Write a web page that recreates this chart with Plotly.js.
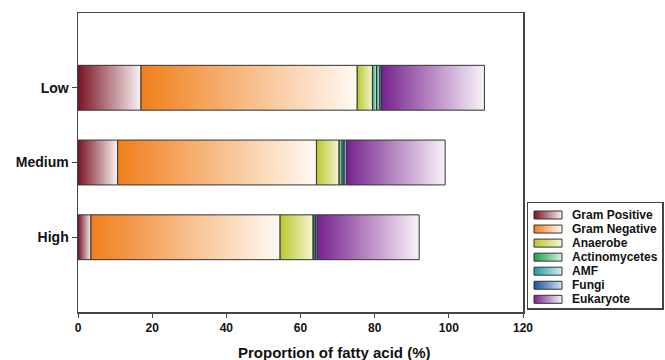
<!DOCTYPE html>
<html>
<head>
<meta charset="utf-8">
<script src="https://cdn.plot.ly/plotly-3.0.1.min.js"></script>
<style>
  html, body { margin: 0; padding: 0; background: #ffffff; }
  #chart { width: 665px; height: 360px; }
</style>
</head>
<body>
<div id="chart"></div>
<script>
// Fatty acid profile per treatment level (% of total)
const groups = ['Low', 'Medium', 'High'];
const seriesNames = ['Gram Positive', 'Gram Negative', 'Anaerobe', 'Actinomycetes', 'AMF', 'Fungi', 'Eukaryote'];
const gramPositive = [17.0, 10.7, 3.5];
const gramNegative = [58.3, 53.6, 51.0];
const anaerobe = [4.1, 6.1, 8.9];
const actinomycetes = [1.1, 0.8, 0.2];
const amf = [0.9, 0.5, 0.4];
const fungi = [0.5, 0.7, 0.5];
const eukaryote = [27.7, 26.6, 27.5];
const xTicks = [0, 20, 40, 60, 80, 100, 120];

const seriesValues = [gramPositive, gramNegative, anaerobe, actinomycetes, amf, fungi, eukaryote];

// dark -> light gradient for each group
const gradients = [
  ['#7a1222', '#f8f2f3'],
  ['#f07f1c', '#fffaf4'],
  ['#b9c92e', '#f4f4d2'],
  ['#1f9a50', '#d6efdd'],
  ['#1c9c9c', '#d3eeee'],
  ['#1f4f9e', '#d6e0f0'],
  ['#77238e', '#f9f2f9']
];

const FONT = 'Liberation Sans, Arial, sans-serif';
const OUTLINE = '#333333';
const HALF = 0.3;

function gradientFill(k) {
  return {
    type: 'horizontal',
    colorscale: [[0, gradients[k][0]], [1, gradients[k][1]]]
  };
}

const traces = [];

// stacked horizontal segments, one filled box per segment
groups.forEach(function (g, i) {
  let start = 0;
  seriesValues.forEach(function (vals, k) {
    const end = start + vals[i];
    traces.push({
      type: 'scatter',
      mode: 'lines',
      x: [start, end, end, start, start],
      y: [i - HALF, i - HALF, i + HALF, i + HALF, i - HALF],
      fill: 'toself',
      fillgradient: gradientFill(k),
      line: { color: OUTLINE, width: 1 },
      name: seriesNames[k],
      showlegend: false,
      hoverinfo: 'skip',
      xaxis: 'x',
      yaxis: 'y'
    });
    start = end;
  });
});

// key: swatch + label per group, drawn on its own small axes
const KEY_ROW0 = 12;
const KEY_STEP = 14.05;
const KEY_SW_H = 4;
const annotations = [];
seriesNames.forEach(function (name, k) {
  const yc = KEY_ROW0 + KEY_STEP * k;
  traces.push({
    type: 'scatter',
    mode: 'lines',
    x: [6, 34, 34, 6, 6],
    y: [yc - KEY_SW_H, yc - KEY_SW_H, yc + KEY_SW_H, yc + KEY_SW_H, yc - KEY_SW_H],
    fill: 'toself',
    fillgradient: gradientFill(k),
    line: { color: OUTLINE, width: 1 },
    showlegend: false,
    hoverinfo: 'skip',
    xaxis: 'x2',
    yaxis: 'y2'
  });
  annotations.push({
    xref: 'x2', yref: 'y2',
    x: 42, y: yc,
    xanchor: 'left', yanchor: 'middle',
    text: '<b>' + name + '</b>',
    showarrow: false,
    font: { family: FONT, size: 12, color: '#111111' }
  });
});

annotations.push({
  xref: 'paper', yref: 'paper',
  x: 0.439, y: -0.134,
  xanchor: 'center', yanchor: 'middle',
  text: '<b>Proportion of fatty acid (%)</b>',
  showarrow: false,
  font: { family: FONT, size: 15, color: '#111111' }
});

const layout = {
  width: 665,
  height: 360,
  margin: { l: 78, r: 3, t: 13, b: 48 },
  paper_bgcolor: '#ffffff',
  plot_bgcolor: '#ffffff',
  showlegend: false,
  font: { family: FONT, color: '#111111' },
  xaxis: {
    domain: [0, 445 / 584],
    range: [0, 120],
    tickvals: xTicks,
    ticktext: xTicks.map(function (v) { return '<b>' + v + '</b>'; }),
    tickfont: { family: FONT, size: 12, color: '#111111' },
    ticks: 'outside',
    ticklen: 4,
    tickcolor: '#444444',
    showline: true,
    linecolor: '#444444',
    linewidth: 1.5,
    mirror: true,
    showgrid: false,
    zeroline: false,
    fixedrange: true
  },
  yaxis: {
    domain: [0, 1],
    range: [3, -1],
    tickvals: [0, 1, 2],
    ticktext: groups.map(function (g) { return '<b>' + g + '</b>'; }),
    tickfont: { family: FONT, size: 14, color: '#111111' },
    ticks: 'outside',
    ticklen: 5,
    tickcolor: '#444444',
    showline: true,
    linecolor: '#444444',
    linewidth: 1.5,
    mirror: true,
    showgrid: false,
    zeroline: false,
    fixedrange: true
  },
  xaxis2: {
    domain: [450 / 584, 1],
    range: [0, 134],
    anchor: 'y2',
    showline: true,
    mirror: true,
    linecolor: '#444444',
    linewidth: 1.5,
    showticklabels: false,
    ticks: '',
    showgrid: false,
    zeroline: false,
    fixedrange: true
  },
  yaxis2: {
    domain: [4 / 299, 109 / 299],
    range: [105, 0],
    anchor: 'x2',
    showline: true,
    mirror: true,
    linecolor: '#444444',
    linewidth: 1.5,
    showticklabels: false,
    ticks: '',
    showgrid: false,
    zeroline: false,
    fixedrange: true
  },
  annotations: annotations
};

Plotly.newPlot('chart', traces, layout, { staticPlot: true, displayModeBar: false });
</script>
</body>
</html>
